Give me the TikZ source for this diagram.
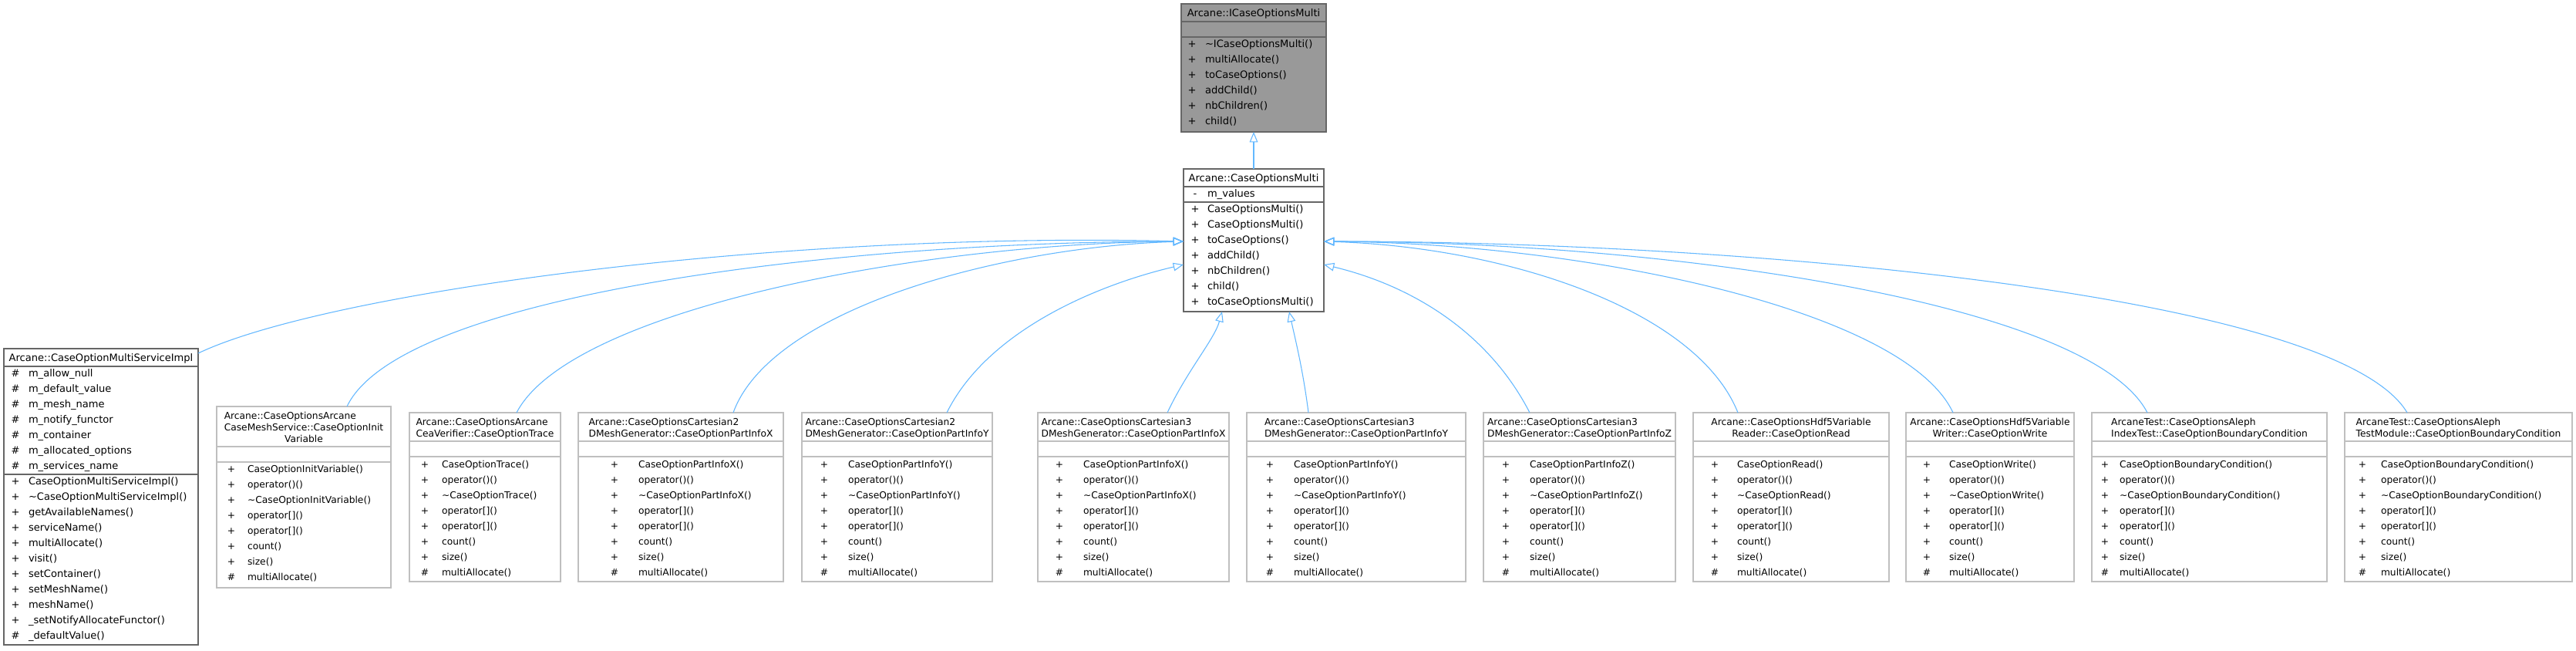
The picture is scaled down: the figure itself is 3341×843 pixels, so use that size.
\documentclass[tikz,border=0pt]{standalone}
\usepackage{fontspec}
\setmainfont{DejaVu Sans}
\usetikzlibrary{arrows.meta,calc}
\definecolor{dgray}{HTML}{666666}
\definecolor{lgray}{HTML}{BFBFBF}
\definecolor{topfill}{HTML}{999999}
\definecolor{edgeblue}{HTML}{63B8FF}
\tikzset{
  txt/.style={inner sep=0pt,outer sep=0pt,font=\fontsize{9.8}{11.25}\selectfont,text=black},
  darkbox/.style={draw=dgray,line width=0.9pt,inner sep=0pt,outer sep=0pt},
  topbox/.style={darkbox,fill=topfill},
  lightbox/.style={draw=lgray,line width=0.9pt,inner sep=0pt,outer sep=0pt},
  darkdiv/.style={draw=dgray,line width=0.9pt},
  lightdiv/.style={draw=lgray,line width=0.9pt},
  inh/.style={draw=edgeblue,line width=0.8pt,-{Triangle[open,length=10pt,width=8pt]}}
}
\newcommand{\umlbox}[6]{%
  \node[#2,minimum width={(#5-#3)*0.75pt},minimum height={(#6-#4)*0.75pt}] (#1) at ({(#3+#5)/2},{(#4+#6)/2}) {};}
\newcommand{\divline}[4]{\draw[#1] (#2,#4) -- (#3,#4);}
\newcommand{\mrow}[6]{%
  \node[txt,anchor=base] (#1s) at (#2,#4) {#5};
  \node[txt,anchor=base west] (#1n) at (#3,#4) {#6};}
\newcommand{\optmembers}[5]{%
  \mrow{#1a}{#2}{#3}{#4}{+}{#5()}
  \mrow{#1b}{#2}{#3}{#4+20}{+}{operator()()}
  \mrow{#1c}{#2}{#3}{#4+40}{+}{\textasciitilde #5()}
  \mrow{#1d}{#2}{#3}{#4+60}{+}{operator[]()}
  \mrow{#1e}{#2}{#3}{#4+80}{+}{operator[]()}
  \mrow{#1f}{#2}{#3}{#4+100}{+}{count()}
  \mrow{#1g}{#2}{#3}{#4+120}{+}{size()}
  \mrow{#1h}{#2}{#3}{#4+140}{\#}{multiAllocate()}}
% two-line title, both lines left aligned (second is widest)
\newcommand{\titleL}[4]{%
  \node[txt,anchor=base] (#1tb) at (#2,566) {#4};
  \node[txt,anchor=base west] (#1ta) at ($(#1tb.base west)+(0,-15)$) {#3};}
% two-line title, first widest: both centered
\newcommand{\titleC}[4]{%
  \node[txt,anchor=base] (#1ta) at (#2,551) {#3};
  \node[txt,anchor=base] (#1tb) at (#2,566) {#4};}
\newcommand{\optbox}[3]{% name, x1, x2
  \umlbox{#1}{lightbox}{#2}{535}{#3}{754}
  \divline{lightdiv}{#2}{#3}{572}
  \divline{lightdiv}{#2}{#3}{592}}
\begin{document}
\begin{tikzpicture}[x=0.75pt,y=-0.75pt]
\useasboundingbox (0,0) rectangle (3341,843);
\fill[white] (0,0) rectangle (3341,843);

% ---- top interface
\umlbox{top}{topbox}{1532}{5}{1720}{171}
\divline{darkdiv}{1532}{1720}{28}
\divline{darkdiv}{1532}{1720}{48}
\node[txt,anchor=base] (topt) at (1626,21.5) {Arcane::ICaseOptionsMulti};
\mrow{topa}{1546}{1563}{61}{+}{\textasciitilde ICaseOptionsMulti()}
\mrow{topb}{1546}{1563}{81}{+}{multiAllocate()}
\mrow{topc}{1546}{1563}{101}{+}{toCaseOptions()}
\mrow{topd}{1546}{1563}{121}{+}{addChild()}
\mrow{tope}{1546}{1563}{141}{+}{nbChildren()}
\mrow{topf}{1546}{1563}{161}{+}{child()}

% ---- CaseOptionsMulti
\umlbox{m}{darkbox}{1535}{219}{1717}{404}
\divline{darkdiv}{1535}{1717}{242}
\divline{darkdiv}{1535}{1717}{262}
\node[txt,anchor=base] (mt) at (1626,235.5) {Arcane::CaseOptionsMulti};
\mrow{ma}{1550}{1566}{255.5}{-}{m\_values}
\mrow{mb}{1550}{1566}{275.5}{+}{CaseOptionsMulti()}
\mrow{mc}{1550}{1566}{295.5}{+}{CaseOptionsMulti()}
\mrow{md}{1550}{1566}{315.5}{+}{toCaseOptions()}
\mrow{me}{1550}{1566}{335.5}{+}{addChild()}
\mrow{mf}{1550}{1566}{355.5}{+}{nbChildren()}
\mrow{mg}{1550}{1566}{375.5}{+}{child()}
\mrow{mh}{1550}{1566}{395.5}{+}{toCaseOptionsMulti()}

% ---- b1 CaseOptionMultiServiceImpl
\umlbox{b1}{darkbox}{5}{452}{257}{836}
\divline{darkdiv}{5}{257}{475}
\divline{darkdiv}{5}{257}{615}
\node[txt,anchor=base] (b1t) at (131,468) {Arcane::CaseOptionMultiServiceImpl};
\mrow{b1a}{20}{37}{488.5}{\#}{m\_allow\_null}
\mrow{b1b}{20}{37}{508.5}{\#}{m\_default\_value}
\mrow{b1c}{20}{37}{528.5}{\#}{m\_mesh\_name}
\mrow{b1d}{20}{37}{548.5}{\#}{m\_notify\_functor}
\mrow{b1e}{20}{37}{568.5}{\#}{m\_container}
\mrow{b1f}{20}{37}{588.5}{\#}{m\_allocated\_options}
\mrow{b1g}{20}{37}{608.5}{\#}{m\_services\_name}
\mrow{b1h}{20}{37}{628.5}{+}{CaseOptionMultiServiceImpl()}
\mrow{b1i}{20}{37}{648.5}{+}{\textasciitilde CaseOptionMultiServiceImpl()}
\mrow{b1j}{20}{37}{668.5}{+}{getAvailableNames()}
\mrow{b1k}{20}{37}{688.5}{+}{serviceName()}
\mrow{b1l}{20}{37}{708.5}{+}{multiAllocate()}
\mrow{b1m}{20}{37}{728.5}{+}{visit()}
\mrow{b1n}{20}{37}{748.5}{+}{setContainer()}
\mrow{b1o}{20}{37}{768.5}{+}{setMeshName()}
\mrow{b1p}{20}{37}{788.5}{+}{meshName()}
\mrow{b1q}{20}{37}{808.5}{+}{\_setNotifyAllocateFunctor()}
\mrow{b1r}{20}{37}{828.5}{\#}{\_defaultValue()}

\begin{scope}[txt/.style={inner sep=0pt,outer sep=0pt,font=\fontsize{9.2}{11.25}\selectfont,text=black}]
% ---- b2
\umlbox{b2}{lightbox}{281}{527}{507}{762}
\divline{lightdiv}{281}{507}{579}
\divline{lightdiv}{281}{507}{599}
\node[txt,anchor=base] (b2tb) at (394,558) {CaseMeshService::CaseOptionInit};
\node[txt,anchor=base west] (b2ta) at ($(b2tb.base west)+(0,-15)$) {Arcane::CaseOptionsArcane};
\node[txt,anchor=base] (b2tc) at (394,573) {Variable};
\optmembers{b2}{300}{321}{612.7}{CaseOptionInitVariable}

% ---- b3 .. b12
\optbox{b3}{531}{727}
\titleL{b3}{629}{Arcane::CaseOptionsArcane}{CeaVerifier::CaseOptionTrace}
\optmembers{b3}{551}{573}{606}{CaseOptionTrace}

\optbox{b4}{750}{1016}
\titleL{b4}{883}{Arcane::CaseOptionsCartesian2}{DMeshGenerator::CaseOptionPartInfoX}
\optmembers{b4}{797}{828}{606}{CaseOptionPartInfoX}

\optbox{b5}{1040}{1287}
\titleL{b5}{1163.5}{Arcane::CaseOptionsCartesian2}{DMeshGenerator::CaseOptionPartInfoY}
\optmembers{b5}{1069}{1100}{606}{CaseOptionPartInfoY}

\optbox{b6}{1346}{1594}
\titleL{b6}{1470}{Arcane::CaseOptionsCartesian3}{DMeshGenerator::CaseOptionPartInfoX}
\optmembers{b6}{1374}{1405}{606}{CaseOptionPartInfoX}

\optbox{b7}{1617}{1901}
\titleL{b7}{1759}{Arcane::CaseOptionsCartesian3}{DMeshGenerator::CaseOptionPartInfoY}
\optmembers{b7}{1647}{1678}{606}{CaseOptionPartInfoY}

\optbox{b8}{1924}{2173}
\titleL{b8}{2048.5}{Arcane::CaseOptionsCartesian3}{DMeshGenerator::CaseOptionPartInfoZ}
\optmembers{b8}{1953}{1984}{606}{CaseOptionPartInfoZ}

\optbox{b9}{2196}{2450}
\titleC{b9}{2323}{Arcane::CaseOptionsHdf5Variable}{Reader::CaseOptionRead}
\optmembers{b9}{2224}{2253}{606}{CaseOptionRead}

\optbox{b10}{2472}{2690}
\titleC{b10}{2581}{Arcane::CaseOptionsHdf5Variable}{Writer::CaseOptionWrite}
\optmembers{b10}{2499}{2528}{606}{CaseOptionWrite}

\optbox{b11}{2713}{3018}
\titleL{b11}{2865.5}{ArcaneTest::CaseOptionsAleph}{IndexTest::CaseOptionBoundaryCondition}
\optmembers{b11}{2730}{2749}{606}{CaseOptionBoundaryCondition}

\optbox{b12}{3041}{3336}
\titleL{b12}{3188.5}{ArcaneTest::CaseOptionsAleph}{TestModule::CaseOptionBoundaryCondition}
\optmembers{b12}{3064}{3088}{606}{CaseOptionBoundaryCondition}
\end{scope}

% ---- connectors
\draw[inh] (m.north) -- (top.south);
\draw[inh] ($(b1.north east)+(0,6)$) .. controls (420,380) and (1000,300) .. ($(m.west)+(0,1.5)$);
\draw[inh] ($(b2.north)+(56,0)$) .. controls (520,380) and (1100,313) .. ($(m.west)+(0,1.5)$);
\draw[inh] ($(b3.north)+(41,0)$) .. controls (740,400) and (1200,315) .. ($(m.west)+(0,1.5)$);
\draw[inh] ($(b4.north)+(68,0)$) .. controls (1000,400) and (1300,320) .. ($(m.west)+(0,1.5)$);
\draw[inh] ($(b5.north)+(64.5,0)$) .. controls (1280,430) and (1420,370) .. ($(m.west)+(0,31.5)$);
\draw[inh] ($(b6.north)+(44,0)$) .. controls (1540,480) and (1575,440) .. ($(m.south)+(-41,0)$);
\draw[inh] ($(b7.north)+(-62,0)$) .. controls (1690,480) and (1680,440) .. ($(m.south)+(46,0)$);
\draw[inh] ($(b8.north)+(-64.5,0)$) .. controls (1930,430) and (1830,370) .. ($(m.east)+(0,31.5)$);
\draw[inh] ($(b9.north)+(-69,0)$) .. controls (2200,400) and (1950,320) .. ($(m.east)+(0,1.5)$);
\draw[inh] ($(b10.north)+(-48,0)$) .. controls (2470,400) and (2050,315) .. ($(m.east)+(0,1.5)$);
\draw[inh] ($(b11.north)+(-80.5,0)$) .. controls (2710,390) and (2150,313) .. ($(m.east)+(0,1.5)$);
\draw[inh] ($(b12.north)+(-66.5,0)$) .. controls (3030,380) and (2250,313) .. ($(m.east)+(0,1.5)$);
\end{tikzpicture}
\end{document}
